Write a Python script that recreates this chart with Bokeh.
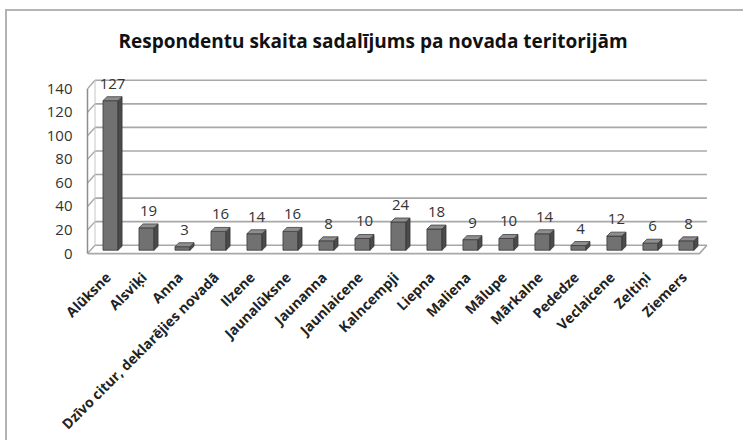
import numpy as np
from math import pi
from bokeh.plotting import figure
from bokeh.models import ColumnDataSource, FixedTicker, Range1d
from bokeh.core.properties import value
from bokeh.embed import file_html
from bokeh.resources import INLINE

# ---------------- data ----------------
categories = ["Alūksne", "Alsviķi", "Anna", "Dzīvo citur, deklarējies novadā", "Ilzene",
              "Jaunalūksne", "Jaunanna", "Jaunlaicene", "Kalncempji", "Liepna", "Maliena",
              "Mālupe", "Mārkalne", "Pededze", "Veclaicene", "Zeltiņi", "Ziemers"]
counts = [127, 19, 3, 16, 14, 16, 8, 10, 24, 18, 9, 10, 14, 4, 12, 6, 8]
y_ticks = [0, 20, 40, 60, 80, 100, 120, 140]
title_text = "Respondentu skaita sadalījums pa novada teritorijām"

# ---------------- layout ----------------
W, H = 736, 429
ML, MR, MT, MB = 80, 31, 59, 178
FW, FH = W - ML - MR, H - MT - MB
PX_PER_CAT = 35.88
PX_PER_UNIT = 1.19
x_start = -0.5 - 2.5 / PX_PER_CAT
x_end = x_start + FW / PX_PER_CAT
y_start = -9 / PX_PER_UNIT
y_end = y_start + FH / PX_PER_UNIT

n = len(categories)
idx = np.arange(n)
DX = 7.5 / PX_PER_CAT      # depth of the 3D box (x, data units)
DY = 8.5 / PX_PER_UNIT     # depth of the 3D box (y, data units)
floor_l = x_start
floor_r = floor_l + n
ymax = y_ticks[-1]

p = figure(width=W, height=H, output_backend="svg", toolbar_location=None,
           x_range=Range1d(x_start, x_end), y_range=Range1d(y_start, y_end),
           min_border_left=ML, min_border_right=MR, min_border_top=MT, min_border_bottom=MB)
p.styles = {"margin-left": "5px", "margin-top": "9px", "box-sizing": "content-box",
            "border-left": "2px solid #b4b4b4", "border-top": "2px solid #b4b4b4"}
p.outline_line_color = None
p.xgrid.visible = False
p.ygrid.visible = False
p.background_fill_color = "white"
p.border_fill_color = "white"

grid_col = "#a8a8a8"
# back wall gridlines
p.multi_line(xs=[[floor_l + DX, floor_r + DX] for v in y_ticks],
             ys=[[v + DY, v + DY] for v in y_ticks], line_color=grid_col, line_width=1.6)
# side wall diagonals
p.multi_line(xs=[[floor_l, floor_l + DX] for v in y_ticks],
             ys=[[v, v + DY] for v in y_ticks], line_color=grid_col, line_width=1.4)
# back-left vertical edge
p.line(x=[floor_l + DX, floor_l + DX], y=[DY, ymax + DY], line_color="#c8c8c8", line_width=1)
# floor front edge and right edge
p.line(x=[floor_l, floor_r, floor_r + DX], y=[0, 0, DY], line_color=grid_col, line_width=1.6)

# bars (front, side, top)
bw = 15 / PX_PER_CAT
bc = idx + 2.5 / PX_PER_CAT
bdx = 4 / PX_PER_CAT
bdy = 4 / PX_PER_UNIT
bot = 0.4 * DY
tops = np.array(counts, dtype=float) + bot
left = bc - bw / 2
right = bc + bw / 2

src = ColumnDataSource(dict(left=left, right=right, top=tops, bottom=np.full(n, bot),
                            lab=[str(c) for c in counts], xc=bc + bdx / 2))
p.quad(left="left", right="right", top="top", bottom="bottom", source=src,
       fill_color="#717171", line_color="#3c3c3c", line_width=0.8)
p.patches(xs=[[r, r, r + bdx, r + bdx] for r in right],
          ys=[[bot, t, t + bdy, bot + bdy] for t in tops],
          fill_color="#4b4b4b", line_color="#333333", line_width=0.8)
p.patches(xs=[[l, r, r + bdx, l + bdx] for l, r in zip(left, right)],
          ys=[[t, t, t + bdy, t + bdy] for t in tops],
          fill_color="#8e8e8e", line_color="#3c3c3c", line_width=0.8)

# data labels
p.text(x="xc", y="top", text="lab", source=src, text_align="center", text_baseline="middle",
       y_offset=-17, text_font=value("Open Sans"), text_font_size="15px", text_color="#333333")

# axes
p.yaxis.ticker = FixedTicker(ticks=y_ticks)
p.yaxis.bounds = (0, ymax)
p.yaxis.axis_line_color = "#8c8c8c"
p.yaxis.axis_line_width = 1.5
p.yaxis.major_tick_line_color = None
p.yaxis.major_tick_out = 0
p.yaxis.major_tick_in = 0
p.yaxis.minor_tick_line_color = None
p.yaxis.major_label_standoff = 15
p.yaxis.major_label_text_font = "Open Sans"
p.yaxis.major_label_text_font_size = "15px"
p.yaxis.major_label_text_color = "#333333"

p.xaxis.ticker = FixedTicker(ticks=list(range(n)))
p.xaxis.major_label_overrides = {i: c for i, c in enumerate(categories)}
p.xaxis.axis_line_color = None
p.xaxis.major_tick_line_color = None
p.xaxis.major_tick_out = 0
p.xaxis.major_tick_in = 0
p.xaxis.minor_tick_line_color = None
p.xaxis.major_label_orientation = pi / 4
p.xaxis.major_label_standoff = 12
p.xaxis.major_label_text_font = "Open Sans"
p.xaxis.major_label_text_font_size = "14px"
p.xaxis.major_label_text_font_style = "bold"
p.xaxis.major_label_text_color = "#222222"

p.title.text = title_text
p.title.text_font = "Open Sans"
p.title.text_font_size = "19px"
p.title.text_font_style = "bold"
p.title.text_color = "#111111"
p.title.align = "left"
p.title.vertical_align = "top"
p.title.offset = 31
p.title.standoff = 33

open("out.html", "w").write(file_html(p, INLINE))
